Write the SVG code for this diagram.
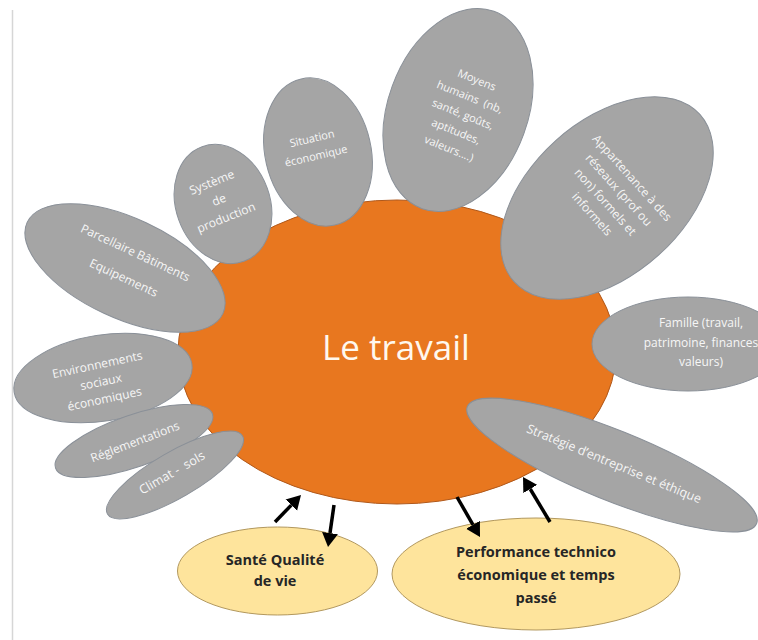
<svg xmlns="http://www.w3.org/2000/svg" width="758" height="640" viewBox="0 0 758 640">
  <style>
    .petal { fill: #A5A5A5; stroke: #8A9098; stroke-width: 1; }
    .petal-text { font-family: "Open Sans", "Liberation Sans", sans-serif; font-size: 12px; fill: #F6F6F6; text-anchor: middle; white-space: pre; }
    .core { fill: #E8771F; stroke: #B0581A; stroke-width: 1; }
    .core-text { font-family: "Open Sans", "Liberation Sans", sans-serif; font-size: 35px; fill: #FFF8EE; text-anchor: middle; }
    .outcome { fill: #FEE49C; stroke: #B2985E; stroke-width: 1; }
    .outcome-text { font-family: "Open Sans", "Liberation Sans", sans-serif; font-size: 14.5px; font-weight: 700; fill: #262626; text-anchor: middle; }
    .arrow { stroke: #000000; stroke-width: 3.5; fill: none; marker-end: url(#arrowhead); }
  </style>
  <defs>
    <marker id="arrowhead" markerUnits="userSpaceOnUse" markerWidth="15" markerHeight="17" viewBox="0 -8.5 15 17" refX="0" refY="0" orient="auto">
      <path d="M0,-8 L14,0 L0,8 Z" fill="#000000"/>
    </marker>
  </defs>

  <rect width="758" height="640" fill="#FFFFFF"/>
  <line x1="12.5" y1="10" x2="12.5" y2="640" stroke="#D6D6D6" stroke-width="1.5"/>

  <!-- central node -->
  <g id="le-travail">
    <ellipse class="core" cx="397" cy="352" rx="219" ry="152"/>
    <text class="core-text" x="396" y="360">Le travail</text>
  </g>

  <!-- surrounding factors -->
  <g id="parcellaire">
    <ellipse class="petal" cx="0" cy="0" rx="108" ry="50" transform="translate(125,268) rotate(25)"/>
    <g transform="translate(125,268) rotate(25)">
      <text class="petal-text" x="3" y="-14">Parcellaire Bâtiments</text>
      <text class="petal-text" x="3" y="13.5">Equipements</text>
    </g>
  </g>

  <g id="systeme-de-production">
    <ellipse class="petal" cx="0" cy="0" rx="47" ry="61" transform="translate(223,204) rotate(-20)"/>
    <g transform="translate(219,200) rotate(-22)">
      <text class="petal-text" x="0" y="-15">Système</text>
      <text class="petal-text" x="0" y="4">de</text>
      <text class="petal-text" x="0" y="23">production</text>
    </g>
  </g>

  <g id="situation-economique">
    <ellipse class="petal" cx="0" cy="0" rx="53" ry="75" transform="translate(318,152) rotate(-13)"/>
    <g transform="translate(314,147) rotate(-13)">
      <text class="petal-text" style="font-size:11px" x="0" y="-5">Situation</text>
      <text class="petal-text" style="font-size:11px" x="0" y="13">économique</text>
    </g>
  </g>

  <g id="moyens-humains">
    <ellipse class="petal" cx="0" cy="0" rx="70" ry="105" transform="translate(458,110) rotate(20)"/>
    <g transform="translate(463,114) rotate(22)">
      <text class="petal-text" style="font-size:11px" x="0" y="-33">Moyens</text>
      <text class="petal-text" style="font-size:11px" x="0" y="-14.5">humains  (nb,</text>
      <text class="petal-text" style="font-size:11px" x="0" y="4">santé, goûts,</text>
      <text class="petal-text" style="font-size:11px" x="0" y="22.5">aptitudes,</text>
      <text class="petal-text" style="font-size:11px" x="0" y="41">valeurs....)</text>
    </g>
  </g>

  <g id="appartenance-reseaux">
    <ellipse class="petal" cx="0" cy="0" rx="77" ry="125" transform="translate(607,198) rotate(48)"/>
    <g transform="translate(612,196) rotate(48)">
      <text class="petal-text" x="0" y="-23">Appartenance à des</text>
      <text class="petal-text" x="0" y="-5">réseaux (prof ou</text>
      <text class="petal-text" x="0" y="13">non) formels et</text>
      <text class="petal-text" x="0" y="31">informels</text>
    </g>
  </g>

  <g id="environnements">
    <ellipse class="petal" cx="0" cy="0" rx="90" ry="43" transform="translate(103,378) rotate(-9)"/>
    <g transform="translate(101,382) rotate(-12)">
      <text class="petal-text" x="0" y="-13.5">Environnements</text>
      <text class="petal-text" x="0" y="4">sociaux</text>
      <text class="petal-text" x="0" y="21.5">économiques</text>
    </g>
  </g>

  <g id="reglementations">
    <ellipse class="petal" cx="0" cy="0" rx="83" ry="26" transform="translate(134,441) rotate(-19)"/>
    <text class="petal-text" x="0" y="4" transform="translate(135,442) rotate(-21)">Réglementations</text>
  </g>

  <g id="climat-sols">
    <ellipse class="petal" cx="0" cy="0" rx="78" ry="23" transform="translate(175,475) rotate(-30)"/>
    <text class="petal-text" style="font-size:12.5px" x="0" y="4" transform="translate(172,473) rotate(-30)">Climat -  sols</text>
  </g>

  <g id="famille">
    <ellipse class="petal" cx="688" cy="344" rx="96" ry="47"/>
    <text class="petal-text" x="701" y="327">Famille (travail,</text>
    <text class="petal-text" x="701" y="347">patrimoine, finances</text>
    <text class="petal-text" x="701" y="366">valeurs)</text>
  </g>

  <g id="strategie">
    <ellipse class="petal" cx="0" cy="0" rx="156" ry="35" transform="translate(612,465) rotate(22)"/>
    <text class="petal-text" style="font-size:12.5px" x="0" y="4" transform="translate(614,464) rotate(22.4)">Stratégie d’entreprise et éthique</text>
  </g>

  <!-- outcomes -->
  <g id="sante-qualite-de-vie">
    <ellipse class="outcome" cx="277.5" cy="571" rx="100" ry="44"/>
    <text class="outcome-text" x="275" y="565">Santé Qualité</text>
    <text class="outcome-text" x="275" y="586">de vie</text>
  </g>

  <g id="performance">
    <ellipse class="outcome" cx="536" cy="574" rx="144" ry="56"/>
    <text class="outcome-text" x="536" y="557">Performance technico</text>
    <text class="outcome-text" x="536" y="580">économique et temps</text>
    <text class="outcome-text" x="536" y="603">passé</text>
  </g>

  <!-- connectors -->
  <g id="connectors">
    <line class="arrow" x1="275" y1="522" x2="291.3" y2="505.1"/>
    <line class="arrow" x1="334" y1="505" x2="330" y2="533.1"/>
    <line class="arrow" x1="457" y1="497" x2="473" y2="524.8"/>
    <line class="arrow" x1="550" y1="522" x2="530.2" y2="489"/>
  </g>
</svg>
